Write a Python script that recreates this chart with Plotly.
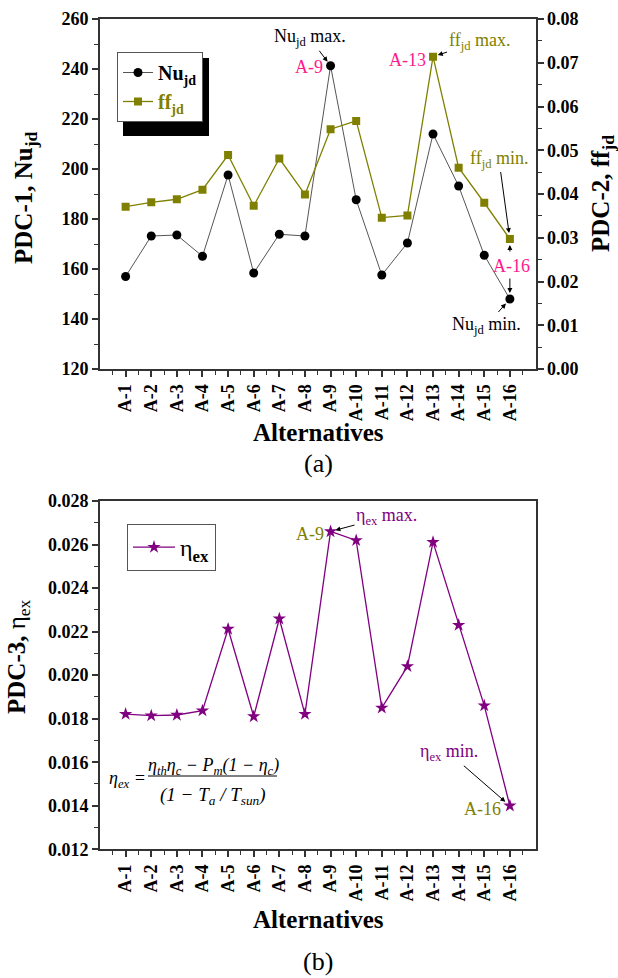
import plotly.graph_objects as go

# Alternatives and the three performance-defining criteria
alternatives = ["A-1", "A-2", "A-3", "A-4", "A-5", "A-6", "A-7", "A-8",
                "A-9", "A-10", "A-11", "A-12", "A-13", "A-14", "A-15", "A-16"]
nu_jd = [157.0, 173.2, 173.6, 165.1, 197.6, 158.4, 173.9, 173.2,
         241.3, 187.7, 157.6, 170.4, 214.0, 193.2, 165.5, 148.0]
ff_jd = [0.0371, 0.0381, 0.0388, 0.0410, 0.0489, 0.0373, 0.0481, 0.0399,
         0.0548, 0.0567, 0.0346, 0.0351, 0.0714, 0.0460, 0.0380, 0.0297]
eta_ex = [0.01821, 0.01814, 0.01817, 0.01837, 0.02212, 0.01810, 0.02259, 0.01821,
          0.02660, 0.02619, 0.01850, 0.02040, 0.02611, 0.02230, 0.01860, 0.01400]

pos = list(range(1, len(alternatives) + 1))

FONT = "Liberation Serif"
AXC = "#333333"
OLIVE = "#808000"
PURPLE = "#800080"
PINK = "#FF1A8C"

W, H = 618, 978
XDOM = [100 / W, 535.5 / W]
TOP_DOM = [1 - 369 / H, 1 - 19 / H]
BOT_DOM = [1 - 849.3 / H, 1 - 501 / H]


def px(x):
    return x / W


def py(y):
    return 1 - y / H


fig = go.Figure()

fig.add_trace(go.Scatter(
    x=pos, y=nu_jd, mode="lines+markers", name="Nu<sub>jd</sub>",
    line=dict(color="#555555", width=1),
    marker=dict(symbol="circle", size=9, color="black"),
    xaxis="x", yaxis="y", legend="legend"))
fig.add_trace(go.Scatter(
    x=pos, y=ff_jd, mode="lines+markers",
    name='<span style="color:#808000">ff<sub>jd</sub></span>',
    line=dict(color=OLIVE, width=1.3),
    marker=dict(symbol="square", size=8, color=OLIVE),
    xaxis="x", yaxis="y2", legend="legend"))
fig.add_trace(go.Scatter(
    x=pos, y=eta_ex, mode="lines+markers",
    name='<span style="font-weight:normal">η</span><sub>ex</sub>',
    line=dict(color=PURPLE, width=1.3),
    marker=dict(symbol="star", size=10, color=PURPLE),
    xaxis="x2", yaxis="y3", legend="legend2"))

tickfont = dict(family=FONT, size=18, color="black", weight="bold")
titlefont = dict(family=FONT, size=25, color="black", weight="bold")

common_x = dict(
    range=[0, 17], tickmode="array", tickvals=pos, ticktext=alternatives,
    tickangle=-90, tickfont=tickfont, showgrid=False, zeroline=False,
    showline=True, linecolor=AXC, linewidth=2, mirror=True,
    ticks="outside", ticklen=6, tickwidth=1.5, tickcolor=AXC,
    minor=dict(tickmode="linear", tick0=0.5, dtick=1, ticks="outside",
               ticklen=4, tickwidth=1.2, tickcolor=AXC),
    domain=XDOM, automargin=False)

yaxis_common = dict(
    tickfont=tickfont, showgrid=False, zeroline=False,
    showline=True, linecolor=AXC, linewidth=2,
    ticks="outside", ticklen=6, tickwidth=1.5, tickcolor=AXC, automargin=False)

fig.update_layout(
    width=W, height=H, margin=dict(l=0, r=0, t=0, b=0, autoexpand=False),
    paper_bgcolor="white", plot_bgcolor="white",
    font=dict(family=FONT, color="black"),
    xaxis=dict(common_x, anchor="y"),
    xaxis2=dict(common_x, anchor="y3"),
    yaxis=dict(
        yaxis_common, range=[120, 260], dtick=20, domain=TOP_DOM, anchor="x",
        minor=dict(dtick=10, ticks="outside", ticklen=4, tickwidth=1.2, tickcolor=AXC)),
    yaxis2=dict(
        yaxis_common, range=[0, 0.08], dtick=0.01, tickformat=".2f",
        overlaying="y", side="right", anchor="x",
        minor=dict(dtick=0.005, ticks="outside", ticklen=4, tickwidth=1.2, tickcolor=AXC)),
    yaxis3=dict(
        yaxis_common, range=[0.012, 0.028], dtick=0.002, tickformat=".3f",
        domain=BOT_DOM, anchor="x2", mirror=True,
        minor=dict(dtick=0.001, ticks="outside", ticklen=4, tickwidth=1.2, tickcolor=AXC)),
    legend=dict(
        x=px(117), y=py(52), xanchor="left", yanchor="top",
        bgcolor="white", bordercolor="#555555", borderwidth=1,
        font=dict(family=FONT, size=20, color="black", weight="bold"),
        itemwidth=30, tracegroupgap=4),
    legend2=dict(
        x=px(127), y=py(524), xanchor="left", yanchor="top",
        bgcolor="white", bordercolor="#555555", borderwidth=1,
        font=dict(family=FONT, size=24, color="black", weight="bold"),
        itemwidth=42),
    showlegend=True,
)

# drop shadow behind the upper legend box
fig.add_shape(type="rect", xref="paper", yref="paper",
              x0=px(123), x1=px(209), y0=py(136), y1=py(58),
              fillcolor="black", line=dict(width=0), layer="below")


def label(text, x, y, font, **kw):
    fig.add_annotation(text=text, xref="paper", yref="paper", x=px(x), y=py(y),
                       xanchor="center", yanchor="middle", showarrow=False,
                       font=font, **kw)


# axis titles
label("PDC-1, Nu<sub>jd</sub>", 26, 198, titlefont, textangle=-90)
label("PDC-2, ff<sub>jd</sub>", 602, 194, titlefont, textangle=-90)
label('PDC-3, <span style="font-weight:normal">η<sub>ex</sub></span>', 18, 657,
      titlefont, textangle=-90)
label("Alternatives", 318, 432, titlefont)
label("Alternatives", 318, 919, titlefont)

ann_font = dict(family=FONT, size=18)


def note(text, x, y, color, xref="x", yref="y", **kw):
    fig.add_annotation(text=text, x=x, y=y, xref=xref, yref=yref,
                       font=dict(ann_font, color=color), **kw)


arrow = dict(showarrow=True, arrowhead=2, arrowsize=1, arrowwidth=1, arrowcolor="black")

# upper panel call-outs
note("Nu<sub>jd</sub> max.", 9, nu_jd[8], "black", ax=-21, ay=-28, standoff=5, **arrow)
note("A-9", 9, nu_jd[8], PINK, showarrow=False, xanchor="right", xshift=-6, yshift=-1)
note("A-13", 13, ff_jd[12], PINK, yref="y2", showarrow=False, xanchor="right", xshift=-5, yshift=-3)
note("ff<sub>jd</sub> max.", 13, ff_jd[12], OLIVE, yref="y2", ax=46, ay=-15, standoff=5, **arrow)
note("ff<sub>jd</sub> min.", 16, ff_jd[15], OLIVE, yref="y2", ax=-11, ay=-80, standoff=6, **arrow)
note("A-16", 16, ff_jd[15], PINK, yref="y2", showarrow=False, yshift=-27, xshift=2)
fig.add_annotation(text="", x=16, y=ff_jd[15], xref="x", yref="y2", ax=0, ay=14, standoff=6, **arrow)
fig.add_annotation(text="", x=16, y=nu_jd[15], xref="x", yref="y", ax=0, ay=-22, standoff=6, **arrow)
note("Nu<sub>jd</sub> min.", 16, nu_jd[15], "black", ax=-23, ay=26, standoff=6, **arrow)

# lower panel call-outs
note("A-9", 9, eta_ex[8], OLIVE, yref="y3", xref="x2", showarrow=False, xanchor="right", xshift=-5, yshift=-3)
note("η<sub>ex</sub> max.", 9, eta_ex[8], PURPLE, xref="x2", yref="y3", ax=56, ay=-15, standoff=5, **arrow)
note("η<sub>ex</sub> min.", 16, eta_ex[15], PURPLE, xref="x2", yref="y3", ax=-61, ay=-53, standoff=6, **arrow)
note("A-16", 16, eta_ex[15], OLIVE, xref="x2", yref="y3", showarrow=False, xanchor="right", xshift=-7, yshift=-3)

# exergy efficiency relation
eq_font = dict(family=FONT, size=18, color="black", style="italic")
fig.add_annotation(text="η<sub>ex</sub> =", xref="paper", yref="paper",
                   x=px(107), y=py(779), xanchor="left", yanchor="middle",
                   showarrow=False, font=eq_font)
label("η<sub>th</sub>η<sub>c</sub> − P<sub>m</sub>(1 − η<sub>c</sub>)", 213, 766, eq_font)
fig.add_shape(type="line", xref="paper", yref="paper",
              x0=px(148), x1=px(277), y0=py(776), y1=py(776),
              line=dict(color="black", width=1))
label("(1 − T<sub>a</sub> / T<sub>sun</sub>)", 213, 796, dict(eq_font, size=19))

# panel labels
label("(a)", 318, 463, dict(family=FONT, size=26, color="black"))
label("(b)", 318, 961, dict(family=FONT, size=26, color="black"))

fig.write_html("out.html")
